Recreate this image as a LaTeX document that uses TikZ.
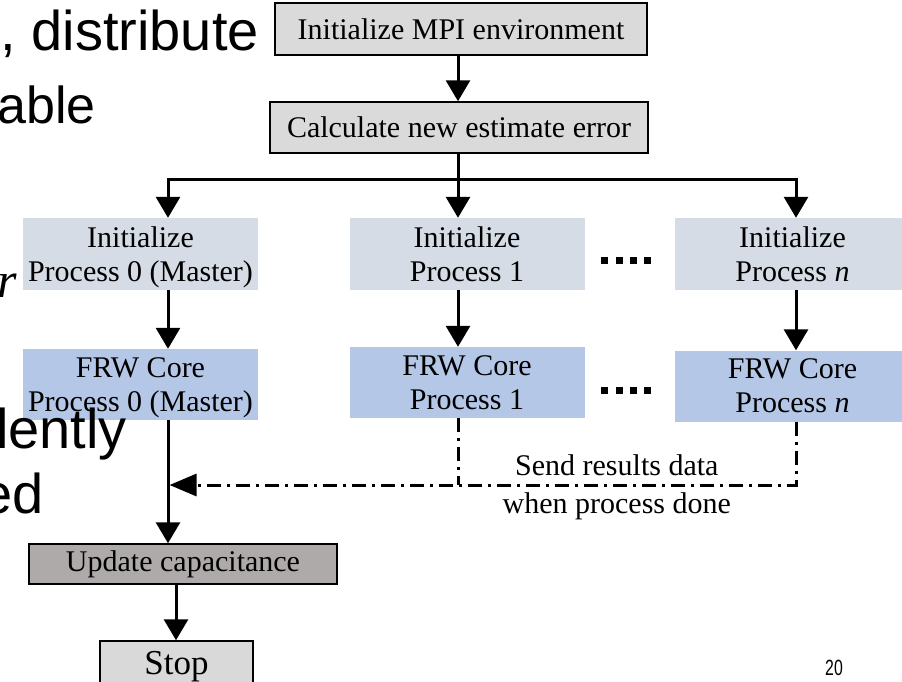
\documentclass[tikz,border=0pt]{standalone}
\usepackage{fontspec}
\usepackage{graphicx}
\setmainfont{Liberation Serif}
\newfontfamily\slidefont{Liberation Sans}
\usetikzlibrary{arrows.meta}
\definecolor{boxgray}{HTML}{DADADA}
\definecolor{initblue}{HTML}{D6DCE5}
\definecolor{coreblue}{HTML}{B4C7E7}
\definecolor{updgray}{HTML}{AEAAA9}
\definecolor{stopgray}{HTML}{D9D9D9}
% second line with its descender ignored, so every box centres alike
\newcommand{\flatline}[1]{\raisebox{0pt}[\height][0pt]{#1}}
\begin{document}
\begin{tikzpicture}[x=1pt,y=-1pt,
  every node/.style={font=\fontsize{30}{34}\selectfont, inner sep=0pt},
  framed/.style={draw=black, line width=1.5pt, fill=boxgray},
  initbox/.style={fill=initblue, minimum width=235pt, minimum height=72pt, align=center},
  corebox/.style={fill=coreblue, minimum width=235pt, minimum height=71pt, align=center},
  flow/.style={line width=3pt, -{Triangle[length=21pt,width=24pt]}},
  report/.style={line width=3pt, dash pattern=on 14pt off 6pt on 3pt off 6pt},
  dotsq/.style={fill=black, minimum size=7pt},
  slide/.style={font=\slidefont\fontsize{56}{60}\selectfont, text=black}
]
\useasboundingbox (0,0) rectangle (902,681);
\clip (0,0) rectangle (902,681);

% flow chart boxes
\node[framed, minimum width=372pt, minimum height=52pt] (mpi) at (461,29) {Initialize MPI environment};
\node[framed, minimum width=378pt, minimum height=51pt] (calc) at (459,127.5) {Calculate new estimate error};
\node[initbox] (init0) at (140.5,254) {Initialize\\\flatline{Process 0 (Master)}};
\node[initbox] (init1) at (467,254) {Initialize\\Process 1};
\node[initbox] (initn) at (792.5,254) {Initialize\\Process \textit{n}};
\node[corebox] (core0) at (140.5,384.5) {FRW Core\\\flatline{Process 0 (Master)}};
\node[corebox] (core1) at (467,382.5) {FRW Core\\Process 1};
\node[corebox] (coren) at (792.5,386) {FRW Core\\Process \textit{n}};
\node[framed, fill=updgray, minimum width=308pt, minimum height=40pt] (update) at (183,564) {Update capacitance};
\node[framed, fill=stopgray, minimum width=153pt, minimum height=52pt, font=\fontsize{35}{40}\selectfont] (stop) at (176.5,667) {Stop};

% ellipsis squares between the process columns
\foreach \xx [count=\i] in {604.5,619,633,647} {
  \node[dotsq] (dotA\i) at (\xx,260) {};
  \node[dotsq] (dotB\i) at (\xx,390) {};
}

% vertical lanes and horizontal buses
\coordinate (lane0) at (168,0);
\coordinate (lane1) at (458,0);
\coordinate (lanen) at (796,0);
\coordinate (laneu) at (176,0);
\coordinate (bus) at (0,179);
\coordinate (merge) at (0,485);

% solid connectors
\draw[flow] (mpi.south -| lane1) -- (calc.north -| lane1);
\draw[flow] (calc.south -| lane1) -- (init1.north -| lane1);
\draw[flow] (lane1 |- bus) -| (lane0 |- init0.north);
\draw[flow] (lane1 |- bus) -| (lanen |- initn.north);
\draw[flow] (init0.south -| lane0) -- (core0.north -| lane0);
\draw[flow] (init1.south -| lane1) -- (core1.north -| lane1);
\draw[flow] (initn.south -| lanen) -- (coren.north -| lanen);
\draw[flow] (core0.south -| lane0) -- (update.north -| lane0);
\draw[flow] (update.south -| laneu) -- (stop.north -| laneu);

% result messages back to the master
\draw[report] (core1.south -| lane1) -- (lane1 |- merge);
\draw[report, -{Triangle[length=27pt,width=22pt]}] (coren.south -| lanen) -- (lanen |- merge)
  -- node[pos=0.286, above=8pt] (sendlbl) {Send results data}
     node[pos=0.286, below=6.5pt] (whenlbl) {when process done}
  ([xshift=1.5pt]lane0 |- merge);

% slide text fragments
\node[slide, anchor=base east] (frag1) at (259,50) {, distribute};
\node[slide, anchor=base west, font=\slidefont\fontsize{52}{56}\selectfont] (frag2) at (-3,123) {able};
\node[font=\itshape\fontsize{50}{54}\selectfont, anchor=base west] (frag3) at (-3,297) {r};
\node[slide, anchor=base west] (frag4) at (-4,448) {lently};
\node[slide, anchor=base east] (frag5) at (44,513) {ed};
\node[font=\slidefont\fontsize{22}{24}\selectfont, anchor=base west] (pageno) at (825,675) {\scalebox{0.72}[1]{20}};
\end{tikzpicture}
\end{document}
